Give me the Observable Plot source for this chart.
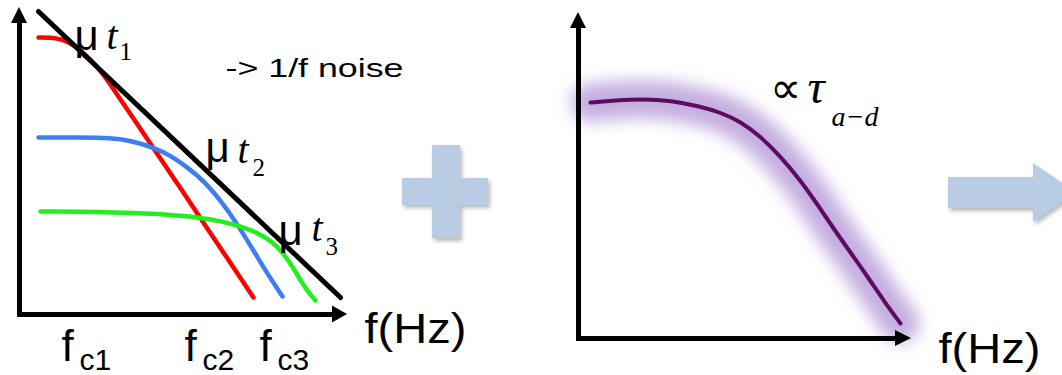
<!DOCTYPE html>
<html><head><meta charset="utf-8">
<script src="https://cdn.jsdelivr.net/npm/d3@7"></script>
<script src="https://cdn.jsdelivr.net/npm/@observablehq/plot@0.6"></script>
<style>html,body{margin:0;padding:0;background:#fff;overflow:hidden}</style>
</head><body><div id="chart"></div>
<script>
// ---- data (schematic units) ----
const redCurve   = [[38,37],[50,37],[60,38.5],[70,42.5],[80,50],[90,59],[100,70],[110,84],[120,99],[133,118],[153,148],[177,183],[200,218],[227,258],[253,297]];
const blueCurve  = [[38,137],[80,137],[110,137.5],[130,140],[153,147],[170,155],[187,167],[203,180],[220,200],[233,218],[247,240],[263,267],[282,296]];
const greenCurve = [[40,211],[100,211.5],[133,212.5],[167,214],[200,217],[222,221],[240,226],[257,232],[273,242],[283,253],[292,266],[300,280],[308,292],[315,300]];
const envelope   = [[38,11],[340,297]];
const purpleCurve= [[590,102],[615,100],[643,98.5],[670,100],[700,106],[720,112],[740,121],[760,136],[780,156],[800,180],[817,204],[833,228],[850,252],[867,276],[883,300],[900,323]];

const axisLines = [
  {x1:19,  y1:316.5, x2:19,  y2:20},
  {x1:16.5,y1:314,   x2:334, y2:314},
  {x1:578, y1:340.5, x2:578, y2:26},
  {x1:575.5,y1:338,  x2:897, y2:338}
];
const upHeads = [
  {id:"L",y:7, x1:19, x2:19},{id:"L",y:23,x1:11, x2:27},
  {id:"R",y:12,x1:578,x2:578},{id:"R",y:28,x1:570,x2:586}
];
const rightHeads = [
  {id:"L",x:332,y1:305.5,y2:322.5},{id:"L",x:347,y1:314,y2:314},
  {id:"R",x:895,y1:330,y2:346},{id:"R",x:911,y1:338,y2:338}
];
const plusBars = [
  {x1:432,x2:460,y1:145,y2:238},
  {x1:402,x2:488,y1:178,y2:205}
];
const bigArrow = [
  {x:948,y1:177,y2:208},{x:1033,y1:177,y2:208},{x:1033,y1:163,y2:222},{x:1076,y1:192.5,y2:192.5}
];

const muLabels   = [{x:74,y:49,t:"μ"},{x:205,y:161,t:"μ"},{x:278,y:244,t:"μ"}];
const tLabels    = [{x:106,y:48,t:"t"},{x:237,y:162,t:"t"},{x:311,y:240,t:"t"}];
const tSubs      = [{x:119,y:59,t:"1"},{x:252,y:175,t:"2"},{x:325,y:254,t:"3"}];
const fLabels    = [{x:61,y:360,t:"f"},{x:184,y:360,t:"f"},{x:259,y:360,t:"f"}];
const fSubs      = [{x:79,y:369,t:"c1"},{x:202,y:369,t:"c2"},{x:277,y:369,t:"c3"}];
const bigTexts   = [{x:225,y:76,t:"-> 1/f noise",w:178,fs:26},{x:364,y:342,t:"f(Hz)",w:102,fs:42},{x:938,y:362,t:"f(Hz)",w:102,fs:42}];
const propText   = [{x:769,y:102,t:"∝"}];
const tauText    = [{x:807,y:102,t:"τ"}];
const tauSub     = [{x:831,y:125,t:"a−d"}];

const pts = a => a.map(([x,y]) => ({x,y}));
const W = 1062, H = 375;
const sans = "Liberation Sans, Arial, sans-serif";
const serif = "Liberation Serif, Times New Roman, serif";
const txt = (data, o) => Plot.text(data, {x:"x", y:"y", text:"t", textAnchor:"start", lineAnchor:"bottom", fill:"black", ...o});

const chart = Plot.plot({
  width: W, height: H, margin: 0,
  x: {domain:[0,W], range:[0,W], axis:null},
  y: {domain:[0,H], range:[0,H], axis:null},
  style: {background:"white"},
  marks: [
    // right panel glow (under the axes)
    Plot.line(pts(purpleCurve), {x:"x", y:"y", stroke:"#c5aee0", strokeWidth:38, strokeLinecap:"round", curve:"basis", ariaDescription:"glow"}),
    // axes
    Plot.link(axisLines, {x1:"x1", y1:"y1", x2:"x2", y2:"y2", stroke:"black", strokeWidth:5}),
    Plot.areaX(upHeads, {y:"y", x1:"x1", x2:"x2", z:"id", fill:"black"}),
    Plot.areaY(rightHeads, {x:"x", y1:"y1", y2:"y2", z:"id", fill:"black"}),
    // left panel
    Plot.line(pts(redCurve),   {x:"x", y:"y", stroke:"#ff0000", strokeWidth:4.5, curve:"basis"}),
    Plot.line(pts(blueCurve),  {x:"x", y:"y", stroke:"#3d7ef5", strokeWidth:4.5, curve:"basis"}),
    Plot.line(pts(greenCurve), {x:"x", y:"y", stroke:"#22f01a", strokeWidth:4.5, curve:"basis"}),
    Plot.line(pts(envelope),   {x:"x", y:"y", stroke:"black", strokeWidth:5}),
    txt(muLabels, {fontFamily:sans, fontSize:42}),
    txt(tLabels, {fontFamily:serif, fontStyle:"italic", fontSize:40}),
    txt(tSubs, {fontFamily:serif, fontSize:25}),
    txt(fLabels, {fontFamily:sans, fontSize:44}),
    txt(fSubs, {fontFamily:sans, fontSize:30}),
    txt(bigTexts, {fontFamily:sans, fontSize:"fs", ariaDescription:"stretched"}),
    // plus and arrow
    Plot.rect(plusBars, {x1:"x1", x2:"x2", y1:"y1", y2:"y2", fill:"#b8cde4", ariaDescription:"shadowed"}),
    Plot.areaY(bigArrow, {x:"x", y1:"y1", y2:"y2", fill:"#b8cde4", ariaDescription:"shadowed"}),
    // right panel curve
    Plot.line(pts(purpleCurve), {x:"x", y:"y", stroke:"#5d0b5e", strokeWidth:4, curve:"basis"}),
    txt(propText, {fontFamily:serif, fontSize:44}),
    txt(tauText, {fontFamily:serif, fontStyle:"italic", fontSize:48}),
    txt(tauSub, {fontFamily:serif, fontStyle:"italic", fontSize:28})
  ]
});

const ns = "http://www.w3.org/2000/svg";
const defs = document.createElementNS(ns, "defs");
defs.innerHTML = '<filter id="glowBlur" filterUnits="userSpaceOnUse" x="0" y="0" width="1062" height="375"><feGaussianBlur stdDeviation="8"/></filter>';
chart.prepend(defs);
chart.querySelectorAll('[aria-description="glow"]').forEach(g => g.setAttribute("filter", "url(#glowBlur)"));
chart.querySelectorAll('[aria-description="shadowed"]').forEach(g => g.style.filter = "drop-shadow(2px 3px 2px rgba(0,0,0,0.28))");
chart.querySelectorAll('[aria-description="stretched"] text').forEach((t, i) => {
  t.setAttribute("textLength", bigTexts[i].w);
  t.setAttribute("lengthAdjust", "spacingAndGlyphs");
});
document.getElementById("chart").append(chart);
</script>
</body></html>
